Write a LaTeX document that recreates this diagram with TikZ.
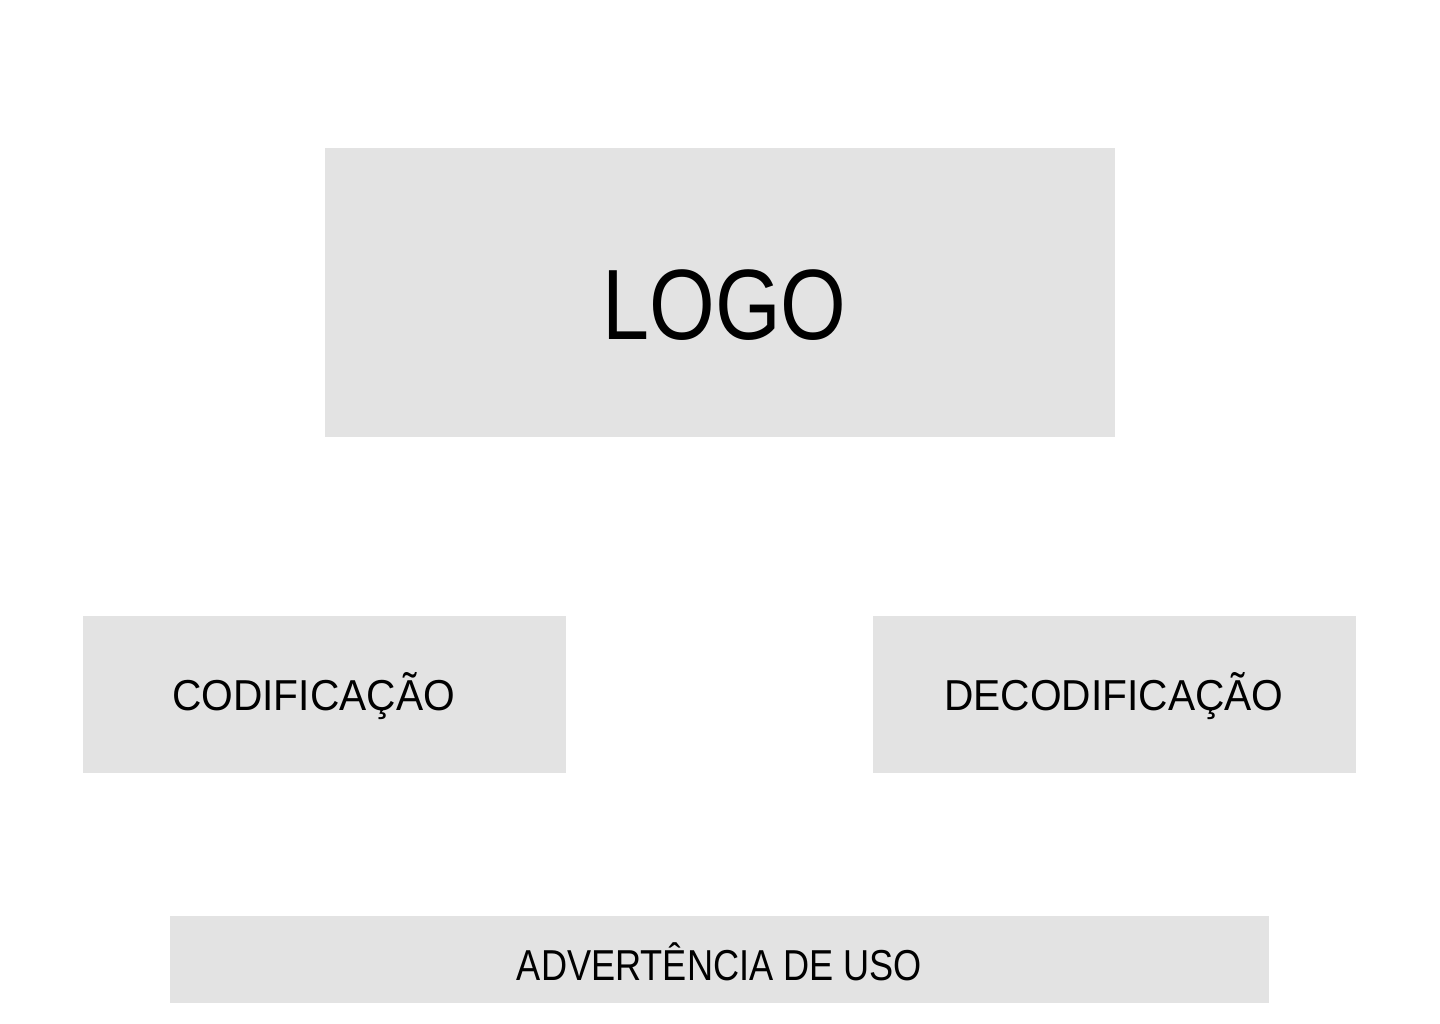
\documentclass[tikz,border=0pt]{standalone}
\usepackage{fontspec}
\setmainfont{Liberation Sans}
\begin{document}
\begin{tikzpicture}[x=1pt,y=-1pt,
  panel/.style={fill=boxgray,draw=none,inner sep=0pt,anchor=north west},
  bigtext/.style={anchor=base,inner sep=0pt,font=\fontsize{100}{100}\selectfont},
  midtext/.style={anchor=base,inner sep=0pt,font=\fontsize{43.3}{44}\selectfont}]
\definecolor{boxgray}{HTML}{E3E3E3}
\useasboundingbox (0,0) rectangle (1440,1024);
\fill[white] (0,0) rectangle (1440,1024);
\node[panel,minimum width=790pt,minimum height=289pt] (logobox) at (325,148) {};
\node[panel,minimum width=483pt,minimum height=157pt] (codbox) at (83,616) {};
\node[panel,minimum width=483pt,minimum height=157pt] (decbox) at (873,616) {};
\node[panel,minimum width=1099pt,minimum height=87pt] (advbox) at (170,916) {};
\node[bigtext] (logo) at (724.5,339) {\scalebox{0.845}[1]{LOGO}};
\node[midtext] (cod) at (313.5,710) {\scalebox{0.94}[1]{CODIFICAÇÃO}};
\node[midtext] (dec) at (1114,710) {\scalebox{0.94}[1]{DECODIFICAÇÃO}};
\node[midtext] (adv) at (719.5,980) {\scalebox{0.835}[1]{ADVERTÊNCIA DE USO}};
\end{tikzpicture}
\end{document}
